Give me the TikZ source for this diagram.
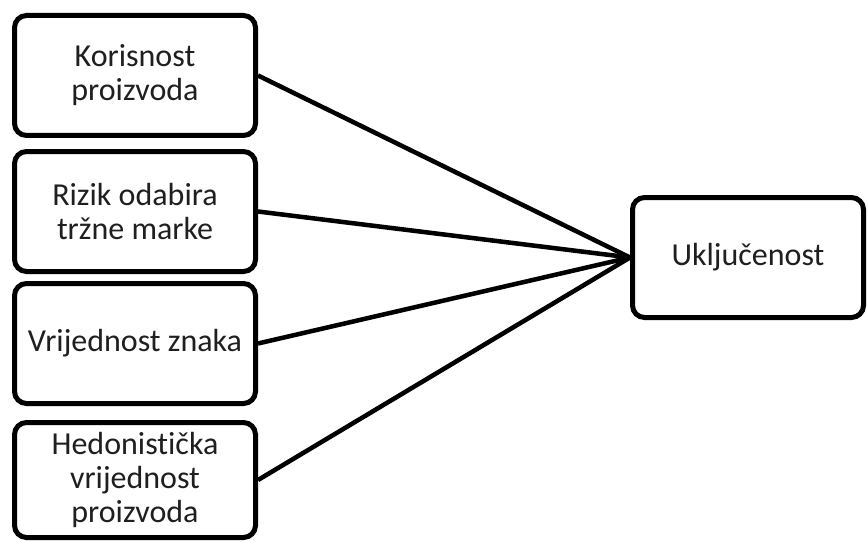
\documentclass[tikz,border=0pt]{standalone}
\usepackage{fontspec}
\setmainfont[Ligatures=NoCommon]{Carlito}
\usetikzlibrary{shadows}

\begin{document}
\begin{tikzpicture}[x=0.75pt, y=-0.75pt,
    factor/.style={draw, line width=3.75pt, rounded corners=9pt, fill=white,
        drop shadow={shadow xshift=0.8pt, shadow yshift=-1.6pt, opacity=0.25},
        minimum width=180.75pt, minimum height=90pt, inner sep=1pt,
        align=center, text=black!88, font=\fontsize{24}{25.5}\selectfont},
    link/.style={line width=3.4pt}]
            \useasboundingbox (0,0) rectangle (868,542);
            \node[factor] (kor) at (135,75.5) {Korisnost\\proizvoda};
            \node[factor] (riz) at (135,211.5) {Rizik odabira\\tržne marke};
            \node[factor] (vri) at (135,343.5) {Vrijednost znaka};
            \node[factor, minimum height=86.25pt] (hed) at (135,480) {Hedonistička\\vrijednost\\proizvoda};
            \node[factor, minimum width=173.25pt] (ukl) at (748,257.5) {Uključenost};
            \draw[link] (kor.east) -- (ukl.west);
            \draw[link] (riz.east) -- (ukl.west);
            \draw[link] (vri.east) -- (ukl.west);
            \draw[link] (hed.east) -- (ukl.west);
        \end{tikzpicture}
\end{document}
